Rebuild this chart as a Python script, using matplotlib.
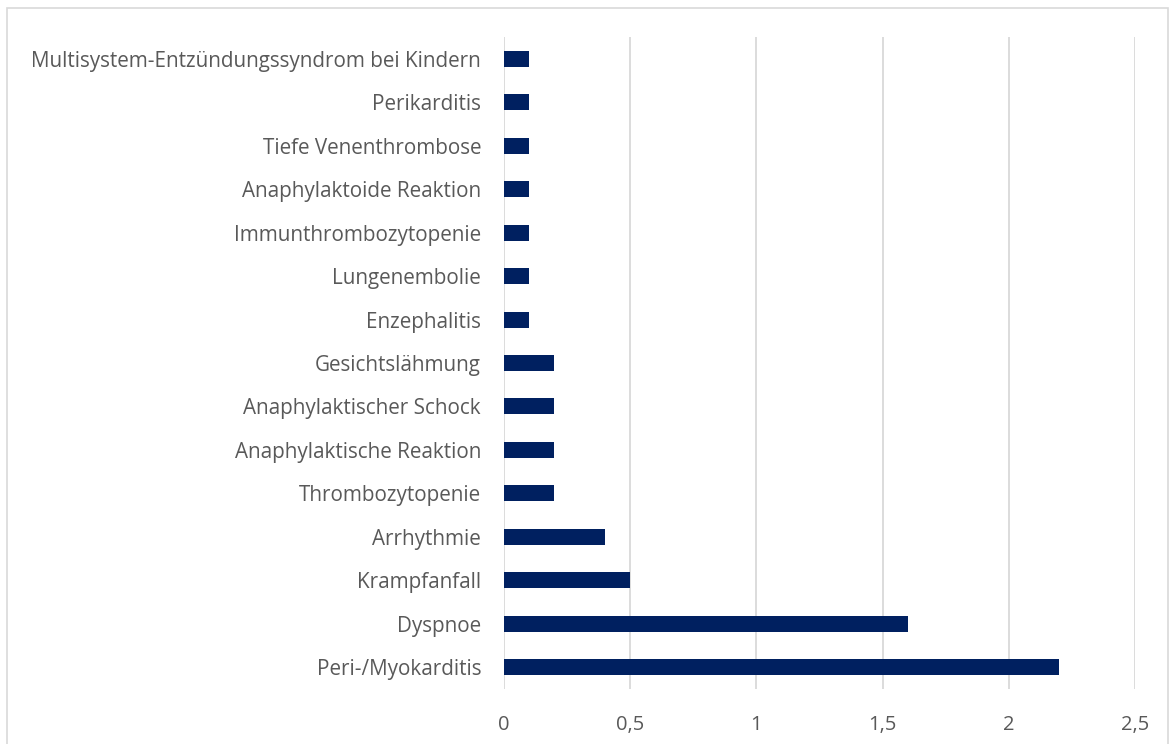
import matplotlib.pyplot as plt
import matplotlib.patches as patches
from matplotlib.ticker import FuncFormatter

categories = ["Peri-/Myokarditis", "Dyspnoe", "Krampfanfall", "Arrhythmie",
              "Thrombozytopenie", "Anaphylaktische Reaktion", "Anaphylaktischer Schock",
              "Gesichtslähmung", "Enzephalitis", "Lungenembolie",
              "Immunthrombozytopenie", "Anaphylaktoide Reaktion",
              "Tiefe Venenthrombose", "Perikarditis",
              "Multisystem-Entzündungssyndrom bei Kindern"]
values = [2.2, 1.6, 0.5, 0.4, 0.2, 0.2, 0.2, 0.2, 0.1, 0.1, 0.1, 0.1, 0.1, 0.1, 0.1]
xticks = [0, 0.5, 1, 1.5, 2, 2.5]

plt.rcParams['font.family'] = ['Open Sans', 'DejaVu Sans']
txt = '#595959'

fig = plt.figure(figsize=(11.71, 7.44), dpi=100)
ax = fig.add_axes([0.4304, 0.0743, 0.5389, 0.8756])

y = range(len(categories))
ax.barh(y, values, height=0.37, color='#002060', zorder=3)
ax.set_ylim(-0.5, len(categories) - 0.5)
ax.set_xlim(0, 2.5)
ax.set_yticks(list(y))
ax.set_yticklabels(categories, fontsize=14.9, color=txt)
ax.set_xticks(xticks)
ax.xaxis.set_major_formatter(FuncFormatter(lambda v, p: ('%g' % v).replace('.', ',')))
ax.tick_params(axis='x', labelsize=14.5, labelcolor=txt, length=0, pad=19)
ax.tick_params(axis='y', length=0, pad=16.5)
ax.grid(axis='x', color='#D9D9D9', linewidth=1.3, zorder=0)
for s in ax.spines.values():
    s.set_visible(False)

border = patches.Rectangle((7 / 1171, -0.05), 1161 / 1171, 1.05 - 8 / 744,
                           transform=fig.transFigure, fill=False,
                           edgecolor='#D9D9D9', linewidth=1.2, clip_on=False)
fig.patches.append(border)

fig.savefig('out.png', dpi=100)
